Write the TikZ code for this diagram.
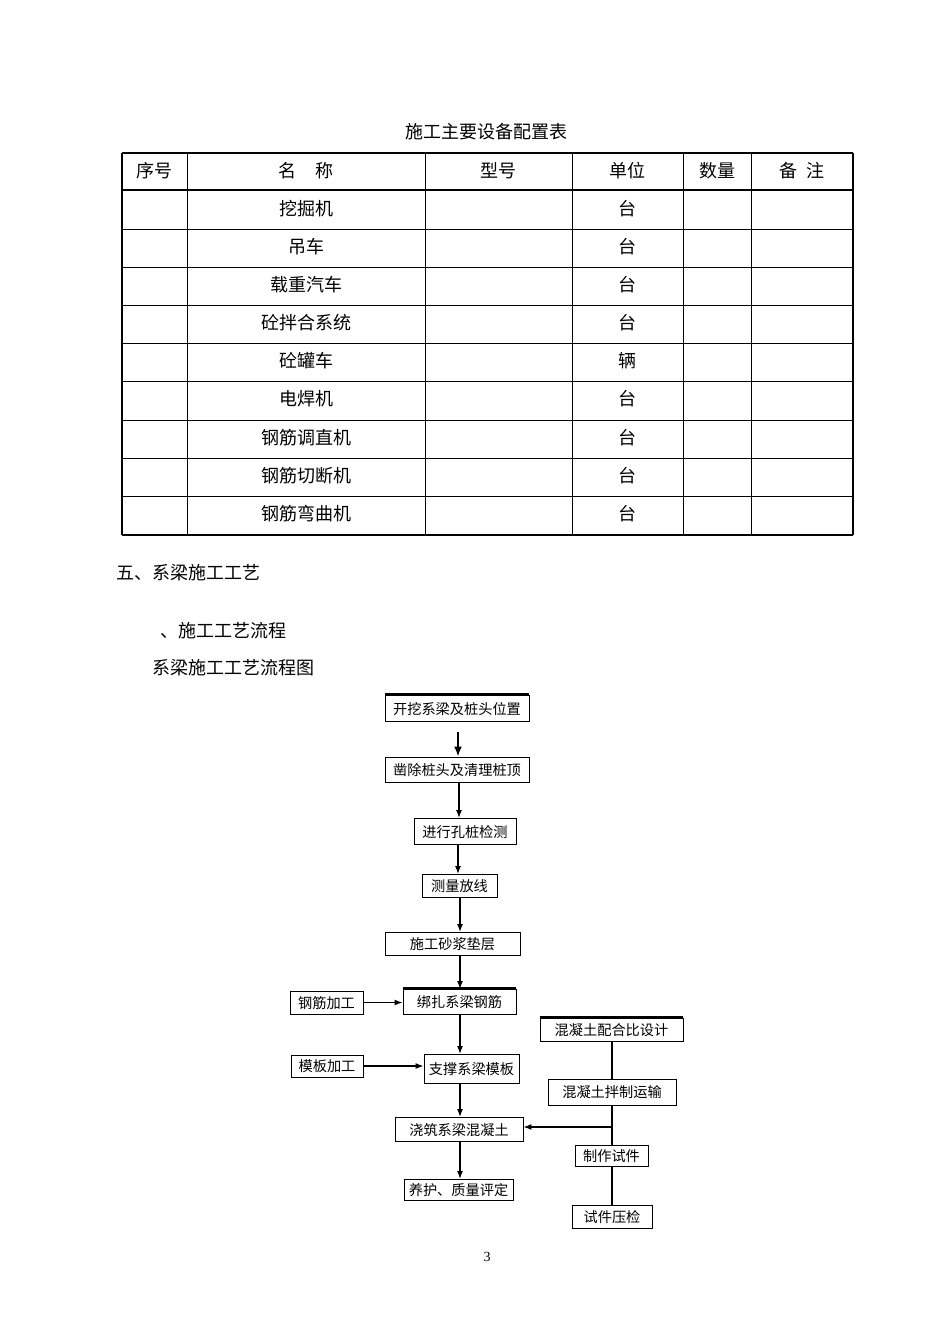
\documentclass[tikz,border=0pt]{standalone}
\usepackage{fontspec}
\newfontfamily\cjk{Noto Sans CJK SC}
\setmainfont{Liberation Serif}
\usetikzlibrary{arrows.meta}
\begin{document}
\begin{tikzpicture}[x=1pt,y=-1pt,
  big/.style={font=\cjk\fontsize{18}{20}\selectfont},
  fbox/.style={draw,line width=0.9pt,inner sep=0pt,text depth=0pt,font=\cjk\fontsize{14.2}{16}\selectfont},
  tline/.style={line width=0.9pt},
  conn/.style={line width=1.2pt,-{Latex[length=8pt,width=6pt]}},
  plain/.style={line width=1.1pt},
  thick top/.style={line width=2.2pt}]
\useasboundingbox (0,0) rectangle (950,1344);
% ---------- table ----------
\node[big] (title) at (486,132) {施工主要设备配置表};
\foreach \yy in {229,267,305,343,381,420,458,496}
  \draw[tline] (122,\yy) -- (853,\yy);
\draw[line width=1.2pt] (122,153) -- (853,153);
\draw[line width=1.8pt] (122,190) -- (853,190);
\draw[line width=1.2pt] (122,535) -- (853,535);
\draw[line width=1.2pt] (122,153) -- (122,535);
\draw[line width=1.6pt] (853,153) -- (853,535);
\foreach \xx in {187,425,572,683,751}
  \draw[tline] (\xx,153) -- (\xx,535);
\node[big] (h1) at (154.5,171) {序号};
\node[big] (h2) at (306,171) {名\hspace{1.05em}称};
\node[big] (h3) at (498.5,171) {型号};
\node[big] (h4) at (627.5,171) {单位};
\node[big] (h5) at (717,171) {数量};
\node[big] (h6) at (802,171) {备\hspace{0.5em}注};
\foreach \nm/\un/\yy [count=\i] in {挖掘机/台/209, 吊车/台/247, 载重汽车/台/285, 砼拌合系统/台/323, 砼罐车/辆/361, 电焊机/台/399, 钢筋调直机/台/438, 钢筋切断机/台/476, 钢筋弯曲机/台/514}{
  \node[big] (name\i) at (306,\yy) {\nm};
  \node[big] (unit\i) at (627.5,\yy) {\un};
}
% ---------- headings ----------
\node[big,anchor=west,inner sep=0pt] (sec) at (116,573) {五、系梁施工工艺};
\node[big,anchor=west,inner sep=0pt] (sub) at (160,631) {、施工工艺流程};
\node[big,anchor=west,inner sep=0pt] (cap) at (152,668) {系梁施工工艺流程图};
\node[font=\fontsize{14}{16}\selectfont] (pg) at (487,1257) {3};
% ---------- flowchart ----------
\node[fbox,minimum width=144pt,minimum height=26pt] (b1) at (457,708) {开挖系梁及桩头位置};
\node[fbox,minimum width=144pt,minimum height=25pt] (b2) at (457,769.5) {凿除桩头及清理桩顶};
\node[fbox,minimum width=102pt,minimum height=26pt] (b3) at (465,831) {进行孔桩检测};
\node[fbox,minimum width=75pt,minimum height=23pt] (b4) at (459.5,885.5) {测量放线};
\node[fbox,minimum width=135pt,minimum height=23pt] (b5) at (452.5,943.5) {施工砂浆垫层};
\node[fbox,minimum width=113pt,minimum height=25pt] (b6) at (459.5,1001.5) {绑扎系梁钢筋};
\node[fbox,minimum width=95pt,minimum height=29pt] (b7) at (471.5,1068.5) {支撑系梁模板};
\node[fbox,minimum width=128pt,minimum height=24pt] (b8) at (459,1129) {浇筑系梁混凝土};
\node[fbox,minimum width=109pt,minimum height=21pt] (b9) at (458.5,1189.5) {养护、质量评定};
\node[fbox,minimum width=73pt,minimum height=23pt] (s1) at (326.5,1002.5) {钢筋加工};
\node[fbox,minimum width=72pt,minimum height=22pt] (s2) at (327,1066) {模板加工};
\node[fbox,minimum width=143pt,minimum height=23pt] (r1) at (611.5,1029.5) {混凝土配合比设计};
\node[fbox,minimum width=128pt,minimum height=26pt] (r2) at (612,1092) {混凝土拌制运输};
\node[fbox,minimum width=73pt,minimum height=21pt] (r3) at (611.5,1155.5) {制作试件};
\node[fbox,minimum width=80pt,minimum height=23pt] (r4) at (612,1216.5) {试件压检};
% thick top edges
\draw[thick top] (b1.north west) -- (b1.north east);
\draw[thick top] (b6.north west) -- (b6.north east);
\draw[thick top] (r1.north west) -- (r1.north east);
% main chain
\coordinate (a1s) at (458,732);
\draw[line width=1.8pt,-{Latex[length=10pt,width=8pt]}] (a1s) -- (458,756.5);
\draw[conn] (459,782) -- (459,818);
\draw[conn] (458,844) -- (458,874);
\draw[conn] (460,897) -- (460,932);
\draw[conn] (460,955) -- (460,989);
\draw[conn] (460,1014) -- (460,1054);
\draw[conn] (460,1083) -- (460,1117);
\draw[conn] (460,1141) -- (460,1179);
% side inputs
\draw[conn] (s1.east) -- (b6.west |- s1.east);
\draw[conn] (s2.east) -- (b7.west |- s2.east);
% right column
\draw[plain] (r1.south -| 612,0) -- (r2.north -| 612,0);
\draw[plain] (r2.south) -- (r3.north -| r2.south);
\coordinate (jn) at (612,1127);
\draw[conn] (jn) -- (b8.east |- jn);
\draw[plain] (r3.south -| 612,0) -- (r4.north -| 612,0);
\end{tikzpicture}
\end{document}
